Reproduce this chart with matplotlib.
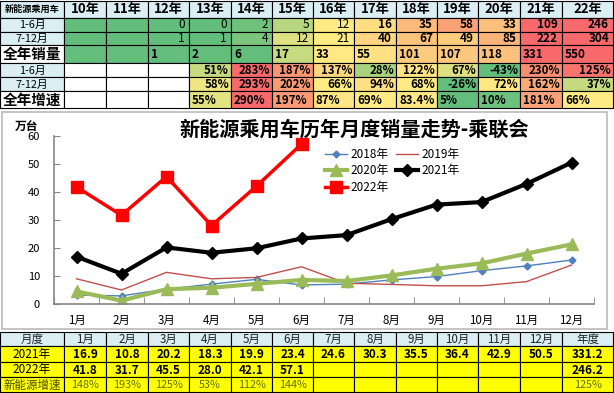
import numpy as np
import matplotlib
matplotlib.use('Agg')
import matplotlib.pyplot as plt
from matplotlib.patches import Rectangle

plt.rcParams['font.family'] = ['Noto Sans CJK SC', 'DejaVu Sans']

# ---- data ----
year_cols = ['10年', '11年', '12年', '13年', '14年', '15年', '16年',
             '17年', '18年', '19年', '20年', '21年', '22年']
h1_sales = [None, None, 0, 0, 2, 5, 12, 16, 35, 58, 33, 109, 246]
h2_sales = [None, None, 1, 1, 4, 12, 21, 40, 67, 49, 85, 222, 304]
year_sales = [None, None, 1, 2, 6, 17, 33, 55, 101, 107, 118, 331, 550]
h1_growth = [None, None, None, 51, 283, 187, 137, 28, 122, 67, -43, 230, 125]
h2_growth = [None, None, None, 58, 293, 202, 66, 94, 68, -26, 72, 162, 37]
year_growth = [None, None, None, 55, 290, 197, 87, 69, 83.4, 5, 10, 181, 66]

months = ['1月', '2月', '3月', '4月', '5月', '6月',
          '7月', '8月', '9月', '10月', '11月', '12月']
s2018 = [3.2, 2.9, 5.3, 7.1, 8.8, 6.8, 7.1, 8.6, 9.8, 11.9, 13.6, 15.7]
s2019 = [9.0, 5.0, 11.3, 9.0, 9.5, 13.3, 7.4, 7.0, 6.5, 6.5, 8.0, 13.9]
s2020 = [4.5, 1.2, 5.3, 5.8, 7.2, 8.6, 8.2, 10.2, 12.6, 14.5, 18.0, 21.3]
s2021 = [16.9, 10.8, 20.2, 18.3, 19.9, 23.4, 24.6, 30.3, 35.5, 36.4, 42.9, 50.5]
s2022 = [41.8, 31.7, 45.5, 28.0, 42.1, 57.1]
total_2021 = 331.2
total_2022 = 246.2
growth_2022 = [148, 193, 125, 53, 112, 144]
growth_total = 125

# ---- cell colours (conditional formatting look) ----
G = '#63BE7B'
R = '#F8696B'
W = 'white'
sales_colors = [
    [G, G, G, G, '#6FC27C', '#B7D680', '#FCEA83', '#FFDE82', '#FDBB7B', '#FBA175', '#FDC07C', R, R],
    [G, G, G, G, '#7CC57D', '#DDE182', '#FFEB84', '#FED580', '#FCC37C', '#FDCD7E', '#FCB47A', R, R],
    [G, G, G, G, G, '#C6DA80', '#FFE984', '#FFE183', '#FDCB7E', '#FDC77D', '#FDC17C', R, R],
]
growth_colors = [
    [W, W, W, '#C8DA80', R, '#FA9773', '#FED880', '#A9D27F', '#FFE483', '#DCE082', G, '#F98D72', '#F8746D'],
    [W, W, W, '#EDE683', R, '#FA9B74', '#FFEB84', '#FFE183', '#FFEB84', G, '#FFE784', '#FBAA77', '#C4D980'],
    [W, W, W, '#E4E382', R, '#FA9A74', '#FFE684', '#FFEB84', '#FFE884', G, '#6CC17C', '#FBA276', '#FFEB84'],
]
HEAD = '#DAEEF3'
YEL = '#FFFF00'
OLIVE = '#5F7000'

col_x = [0, 64, 106, 148, 189, 231, 272, 313, 354, 396, 437, 478, 520, 562, 613]

fig = plt.figure(figsize=(6.14, 3.93), dpi=100)
bg = fig.add_axes([0, 0, 1, 1])
bg.set_xlim(0, 614)
bg.set_ylim(393, 0)
bg.axis('off')


def cell(x0, x1, y0, y1, fc, text='', ha='center', pad=3, **kw):
    bg.add_patch(Rectangle((x0, y0), x1 - x0, y1 - y0, facecolor=fc,
                           edgecolor='black', lw=0.8))
    if text == '':
        return
    if ha == 'right':
        tx = x1 - pad
    elif ha == 'left':
        tx = x0 + pad
    else:
        tx = (x0 + x1) / 2
    bg.text(tx, (y0 + y1) / 2 + 0.5, text, ha=ha, va='center', **kw)


# ---- top table ----
top_y = [0.5, 17.5, 31.5, 45, 63, 77, 91, 108]
cell(col_x[0], col_x[1], top_y[0], top_y[1], HEAD, '新能源乘用车', fontsize=6.6, weight='bold')
for j, lab in enumerate(year_cols):
    cell(col_x[j + 1], col_x[j + 2], top_y[0], top_y[1], HEAD, lab, fontsize=9.5, weight='bold')

row_labels = ['1-6月', '7-12月', '全年销量', '1-6月', '7-12月', '全年增速']
for i, lab in enumerate(row_labels):
    big = lab.startswith('全年')
    cell(col_x[0], col_x[1], top_y[i + 1], top_y[i + 2], W if big else HEAD, lab,
         fontsize=10.5 if big else 7.8, weight='bold' if big else 'normal')

sales_rows = [h1_sales, h2_sales, year_sales]
for i, vals in enumerate(sales_rows):
    for j, v in enumerate(vals):
        txt = '' if v is None else str(v)
        if i == 2:
            cell(col_x[j + 1], col_x[j + 2], top_y[i + 1], top_y[i + 2], sales_colors[i][j],
                 txt, ha='left', fontsize=8.5, weight='bold')
        else:
            cell(col_x[j + 1], col_x[j + 2], top_y[i + 1], top_y[i + 2], sales_colors[i][j],
                 txt, ha='right', pad=4, fontsize=8.5,
                 weight='normal' if j <= 6 else 'bold')

growth_rows = [h1_growth, h2_growth, year_growth]
for i, vals in enumerate(growth_rows):
    for j, v in enumerate(vals):
        txt = '' if v is None else f'{v:g}%'
        if i == 2:
            cell(col_x[j + 1], col_x[j + 2], top_y[i + 4], top_y[i + 5], growth_colors[i][j],
                 txt, ha='left', fontsize=8.3, weight='bold')
        else:
            cell(col_x[j + 1], col_x[j + 2], top_y[i + 4], top_y[i + 5], growth_colors[i][j],
                 txt, ha='right', pad=2, fontsize=8.3, weight='bold')

# ---- chart frame ----
bg.add_patch(Rectangle((2, 112), 605, 217, facecolor='none', edgecolor='#BFBFBF', lw=1.3))
bg.text(27, 127, '万台', ha='center', va='center', fontsize=8.5, weight='bold')
bg.text(354, 129, '新能源乘用车历年月度销量走势-乘联会', ha='center', va='center',
        fontsize=14.5, weight='bold')

# ---- bottom table ----
bot_y = [331.5, 345.5, 362, 377, 392]
cell(col_x[0], col_x[1], bot_y[0], bot_y[1], HEAD, '月度', fontsize=8.3, color='#222222')
for j, m in enumerate(months):
    cell(col_x[j + 1], col_x[j + 2], bot_y[0], bot_y[1], HEAD, m, fontsize=8.3, color='#222222')
cell(col_x[13], col_x[14], bot_y[0], bot_y[1], HEAD, '年度', fontsize=8.3, color='#222222')

cell(col_x[0], col_x[1], bot_y[1], bot_y[2], YEL, '2021年', fontsize=8.5)
cell(col_x[0], col_x[1], bot_y[2], bot_y[3], YEL, '2022年', fontsize=8.5)
cell(col_x[0], col_x[1], bot_y[3], bot_y[4], YEL, '新能源增速', fontsize=8.3, color='#4A4A10')
for j in range(12):
    v21 = f'{s2021[j]:.1f}'
    v22 = f'{s2022[j]:.1f}' if j < len(s2022) else ''
    gr = f'{growth_2022[j]}%' if j < len(growth_2022) else ''
    cell(col_x[j + 1], col_x[j + 2], bot_y[1], bot_y[2], YEL, v21, fontsize=8.5, weight='bold')
    cell(col_x[j + 1], col_x[j + 2], bot_y[2], bot_y[3], YEL, v22, fontsize=8.5, weight='bold')
    cell(col_x[j + 1], col_x[j + 2], bot_y[3], bot_y[4], YEL, gr, fontsize=7.8, color=OLIVE)
cell(col_x[13], col_x[14], bot_y[1], bot_y[2], YEL, f'{total_2021:.1f}', fontsize=8.5, weight='bold')
cell(col_x[13], col_x[14], bot_y[2], bot_y[3], YEL, f'{total_2022:.1f}', fontsize=8.5, weight='bold')
cell(col_x[13], col_x[14], bot_y[3], bot_y[4], YEL, f'{growth_total}%', fontsize=7.8, color=OLIVE)

# ---- line chart ----
ax = fig.add_axes([54 / 614, (393 - 304) / 393, 540 / 614, 168 / 393])
ax.patch.set_alpha(0)
x = np.arange(12)
l18, = ax.plot(x, s2018, color='#4F81BD', lw=1, marker='D', ms=3.5, label='2018年')
l19, = ax.plot(x, s2019, color='#C0504D', lw=1, label='2019年')
l20, = ax.plot(x, s2020, color='#9BBB59', lw=3, marker='^', ms=8, label='2020年')
l21, = ax.plot(x, s2021, color='black', lw=3, marker='D', ms=6.5, label='2021年')
l22, = ax.plot(x[:len(s2022)], s2022, color='#FF0000', lw=2.5, marker='s', ms=8.5, label='2022年')

ax.set_xlim(-0.5, 11.5)
ax.set_ylim(0, 60)
ax.set_yticks(range(0, 61, 10))
ax.set_xticks(x)
ax.set_xticklabels(months)
ax.set_xticks(np.arange(-0.5, 12, 1), minor=True)
ax.tick_params(axis='x', which='major', length=0, pad=7, labelsize=8.3)
ax.tick_params(axis='x', which='minor', direction='in', length=5, color='#868686')
ax.tick_params(axis='y', direction='in', length=4, color='#868686', pad=10, labelsize=8)
for side in ['top', 'right']:
    ax.spines[side].set_visible(False)
for side in ['left', 'bottom']:
    ax.spines[side].set_color('#868686')
    ax.spines[side].set_linewidth(1.2)

# matplotlib fills legend columns first; this order gives rows 18/19, 20/21, 22
handles = [l18, l20, l22, l19, l21]
ax.legend(handles=handles, labels=[h.get_label() for h in handles],
          loc='upper left', bbox_to_anchor=(0.49, 0.965), ncol=2, frameon=False,
          fontsize=8.5, handlelength=1.9, handletextpad=0.3, columnspacing=0.6,
          labelspacing=0.3, borderpad=0)

fig.savefig('out.png', dpi=100)
